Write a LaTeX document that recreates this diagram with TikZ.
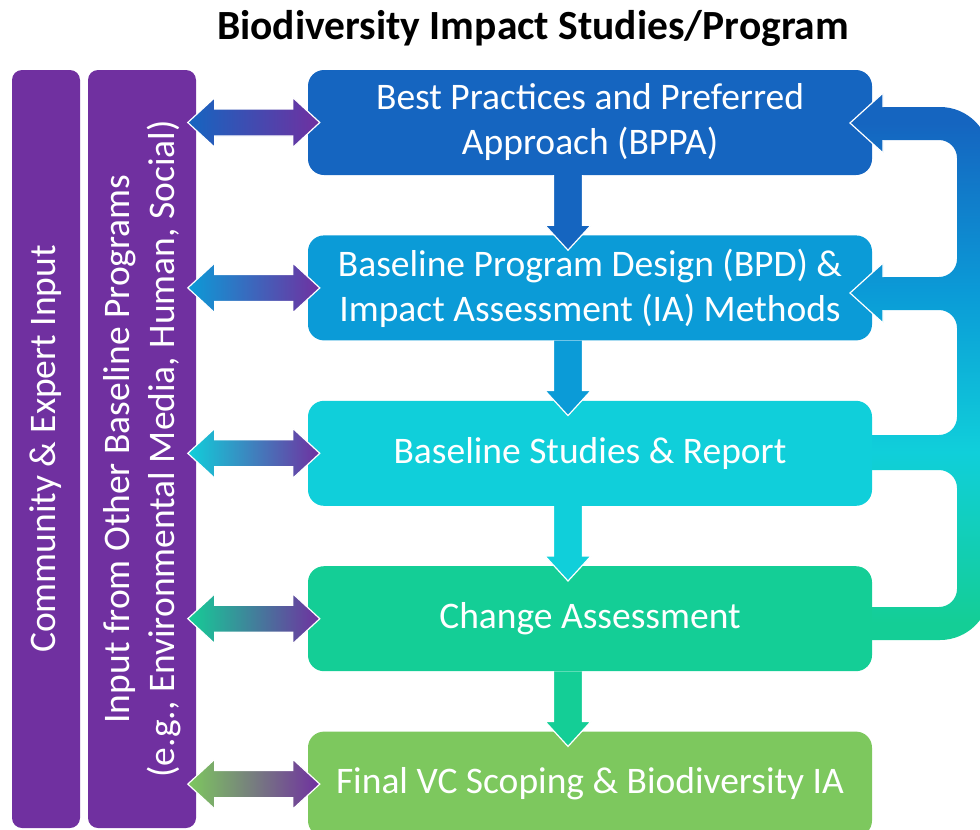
\documentclass[tikz,border=0pt]{standalone}
\usepackage{fontspec}
\setmainfont{Carlito}
\usepackage{tikz}
\usetikzlibrary{positioning,calc}
\definecolor{cbppa}{HTML}{1565C0}
\definecolor{cbpd}{HTML}{0B9BD7}
\definecolor{cbls}{HTML}{10CFDA}
\definecolor{cchg}{HTML}{14CE96}
\definecolor{cfin}{HTML}{7DC85E}
\definecolor{cpurp}{HTML}{7030A0}
% feedback band: blue at the top, green at the bottom
\pgfdeclareverticalshading{fbshade}{100bp}{color(0bp)=(cchg); color(26.6bp)=(cchg);
  color(42.2bp)=(cbls); color(56.7bp)=(cbpd); color(72.3bp)=(cbppa); color(100bp)=(cbppa)}

\begin{document}
\begin{tikzpicture}[x=1pt,y=-1pt,
    stage/.style={fill=#1, rounded corners=16pt, minimum width=564pt, minimum height=105pt,
      inner sep=0pt, text=white, align=center, font=\fontsize{37.5}{45}\selectfont},
    bar/.style={fill=cpurp, rounded corners=10pt, rotate=90, inner sep=0pt,
      text=white, align=center, font=\fontsize{37.5}{45}\selectfont},
    dblarr/.style={draw=white, line width=1.2pt},
    downarr/.style={fill=#1, draw=white, line width=1.2pt}]
  \useasboundingbox (0,0) rectangle (980,830);

  \node[font=\bfseries\fontsize{41.5}{48}\selectfont] (ttl) at (533,28) {Biodiversity Impact Studies/Program};

  \node[bar, minimum width=758pt, minimum height=68pt] (cei) at (46,449) {Community \& Expert Input};
  \node[bar, minimum width=758pt, minimum height=108pt] (obp) at (142,449)
    {Input from Other Baseline Programs\\(e.g., Environmental Media, Human, Social)};

  \node[stage=cbppa] (b1) at (590,122.5) {Best Practices and Preferred\\Approach (BPPA)};
  \node[stage=cbpd, below=60pt of b1] (b2) {Baseline Program Design (BPD) \&\\Impact Assessment (IA) Methods};
  \node[stage=cbls, below=60pt of b2] (b3) {Baseline Studies \& Report};
  \node[stage=cchg, below=60pt of b3] (b4) {Change Assessment};
  \node[stage=cfin, below=60pt of b4] (b5) {Final VC Scoping \& Biodiversity IA};

  % steps down
  \foreach \u/\c in {b1/cbppa,b2/cbpd,b3/cbls,b4/cchg}
    \path[downarr=\c] ($(\u.south)+(-36.5,0)$) -- ++(0,50) -- ++(-8.5,0) -- ++(23,25)
      -- ++(23,-25) -- ++(-8.5,0) -- ++(0,-50);

  % input from the side bars
  \foreach \u/\c in {b1/cbppa,b2/cbpd,b3/cbls,b4/cchg,b5/cfin}
    \path[dblarr, left color=\c, right color=cpurp] ($(\u.west)+(-120,0)$) -- ++(27,-25)
      -- ++(0,11.5) -- ++(78,0) -- ++(0,-11.5) -- ++(27,25) -- ++(-27,25) -- ++(0,-11.5)
      -- ++(-78,0) -- ++(0,11.5) -- cycle;

  % feedback loop on the right
  \path[shading=fbshade] (850,123) -- (883,93) -- (883,107) -- (940,107)
    .. controls (967.6,107) and (990,129.4) .. (990,157) -- (990,590)
    .. controls (990,617.6) and (967.6,640) .. (940,640) -- (872,640) -- (872,607) -- (939,607)
    .. controls (948.9,607) and (957,598.9) .. (957,589) -- (957,488)
    .. controls (957,478.1) and (948.9,470) .. (939,470) -- (872,470) -- (872,435) -- (939,435)
    .. controls (948.9,435) and (957,426.9) .. (957,417) -- (957,328)
    .. controls (957,318.1) and (948.9,310) .. (939,310) -- (883,310) -- (883,323) -- (850,293)
    -- (883,263) -- (883,277) -- (939,277)
    .. controls (948.9,277) and (957,268.9) .. (957,259) -- (957,158)
    .. controls (957,148.1) and (948.9,140) .. (939,140) -- (883,140) -- (883,153) -- cycle;
  \draw[white, line width=1.2pt] (883,107) -- (883,93) -- (850,123) -- (883,153) -- (883,140);
  \draw[white, line width=1.2pt] (883,277) -- (883,263) -- (850,293) -- (883,323) -- (883,310);
\end{tikzpicture}
\end{document}
